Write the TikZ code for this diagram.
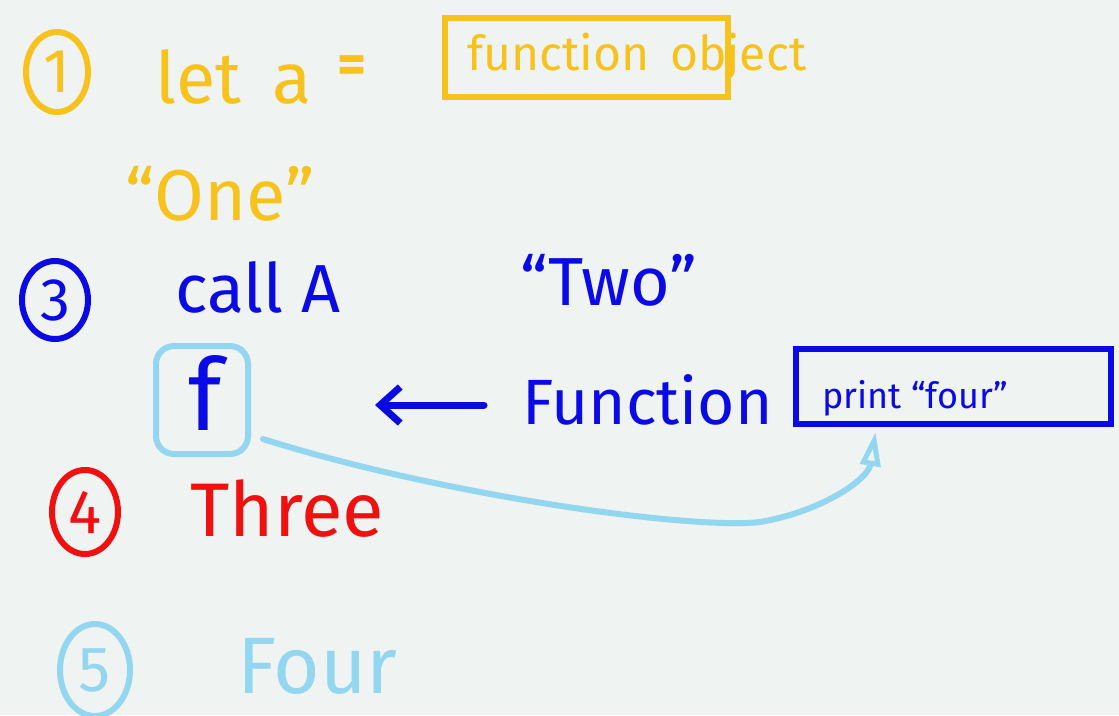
\documentclass[tikz,border=0pt]{standalone}
\usepackage{fontspec}
\setmainfont{Fira Sans}
\usetikzlibrary{arrows.meta,shapes.geometric}
\definecolor{bg}{HTML}{EFF3F2}
\definecolor{yel}{HTML}{F8C21C}
\definecolor{blu}{HTML}{0A0AE6}
\definecolor{redd}{HTML}{F01010}
\definecolor{lblu}{HTML}{92D6F0}
\tikzset{
  txt/.style={inner sep=0pt, anchor=base west},
  num/.style={ellipse, draw, line width=6pt, inner sep=0pt},
  hbox/.style={draw, line width=6pt, inner sep=0pt, rectangle},
}
\newcommand{\fs}[1]{\fontsize{#1}{#1}\selectfont}
\begin{document}
\begin{tikzpicture}[x=1pt,y=-1pt]
\fill[bg] (0,0) rectangle (1119,715);
\useasboundingbox (0,0) rectangle (1119,715);
% step 1
\node[num, yel, minimum width=62pt, minimum height=80pt, text=yel] (c1) at (57,72) {\fs{62}1};
\node[txt, text=yel] (let) at (155,103) {\fs{72}let};
\node[txt, text=yel] (a) at (272,103) {\fs{72}a};
\node[text=yel, inner sep=0pt] (eq) at (352,70) {\fs{56}\bfseries =};
\node[hbox, yel, minimum width=283pt, minimum height=79pt] (ybox) at (586.5,57.5) {};
\node[txt, text=yel] (fo) at (467,70) {\fs{48}function \,object};
\node[txt, text=yel] (one) at (125,220) {\fs{72}“One”};
% step 3
\node[num, blu, minimum width=66pt, minimum height=78pt, text=blu] (c3) at (55,300) {\fs{60}3};
\node[txt, text=blu] (call) at (175,312) {\fs{68}call A};
\node[txt, text=blu] (two) at (520,305) {\fs{68}“Two”};
\node[rectangle, rounded corners=18pt, draw=lblu, line width=6pt, minimum width=92pt, minimum height=108pt, inner sep=0pt] (fbox) at (202,400) {};
\node[text=blu, inner sep=0pt, anchor=base] (f) at (205,430) {\fs{100}f};
\node[txt, text=blu] (func) at (522,424) {\fs{64}Function};
\node[hbox, blu, minimum width=315pt, minimum height=75pt] (pbox) at (953.5,386.5) {};
\node[txt, text=blu] (print) at (822,408) {\fs{36}print “four”};
\draw[blu, line width=7pt, line cap=round, -{Straight Barb[length=20pt, width=36pt, line width=7pt]}, shorten <=38pt, shorten >=124pt] (func.west |- 0,405) -- (fbox.east |- 0,405);
\draw[lblu, line width=6pt, line cap=round, -{Triangle[open, length=34pt, width=20pt, line width=5pt]}]
  ([shift={(12,-18)}]fbox.south east) .. controls (440,495) and (690,530) .. (760,522)
  .. controls (820,512) and (868,480) .. ([shift={(-78,5)}]pbox.south);
% step 4
\node[num, redd, minimum width=66pt, minimum height=84pt, text=redd] (c4) at (85,512) {\fs{62}4};
\node[txt, text=redd] (three) at (190,536) {\fs{76}Three};
% step 5
\node[num, lblu, minimum width=70pt, minimum height=92pt, text=lblu] (c5) at (95,670) {\fs{64}5};
\node[txt, text=lblu] (four) at (237,693) {\fs{80}Four};
\end{tikzpicture}
\end{document}
